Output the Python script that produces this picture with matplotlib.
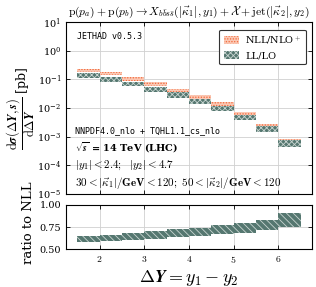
import matplotlib
matplotlib.use("Agg")
import matplotlib.pyplot as plt
import numpy as np

plt.rcParams['mathtext.fontset'] = 'cm'
plt.rcParams['font.family'] = ['DejaVu Serif']
plt.rcParams['hatch.linewidth'] = 0.6

# Data
bin_edges = [1.5, 2.0, 2.5, 3.0, 3.5, 4.0, 4.5, 5.0, 5.5, 6.0, 6.5]
nll_hi = [0.237, 0.181, 0.118, 0.0794, 0.0478, 0.0295, 0.0160, 0.00718, 0.00282, 0.00085]
nll_lo = [0.181, 0.139, 0.0906, 0.0607, 0.0376, 0.0209, 0.0110, 0.00520, 0.00216, 0.00069]
ll_hi = [0.167, 0.122, 0.0836, 0.0546, 0.0356, 0.0209, 0.0116, 0.00580, 0.00234, 0.00074]
ll_lo = [0.112, 0.0815, 0.0575, 0.0376, 0.0232, 0.0140, 0.0076, 0.00380, 0.00149, 0.000448]
ratio_hi = [0.650, 0.658, 0.684, 0.707, 0.726, 0.744, 0.771, 0.793, 0.831, 0.906]
ratio_lo = [0.579, 0.590, 0.605, 0.613, 0.632, 0.643, 0.673, 0.680, 0.711, 0.748]

edges = np.array(bin_edges)
centers = 0.5 * (edges[:-1] + edges[1:])
widths = np.diff(edges)

fig = plt.figure(figsize=(3.16, 2.87), dpi=100)
ax = fig.add_axes([0.209, 0.324, 0.778, 0.599])
axr = fig.add_axes([0.209, 0.132, 0.778, 0.154])

orange_face = '#fbc8b4'
orange_hatch = '#f26a3c'
gray_face = '#557770'
gray_hatch = '#c9d5d1'

nh = np.array(nll_hi); nl = np.array(nll_lo)
lh = np.array(ll_hi); lo = np.array(ll_lo)
ax.bar(centers, nh - nl, bottom=nl, width=widths, facecolor=orange_face,
       edgecolor=orange_hatch, hatch='......', linewidth=0, label=r'NLL/NLO$^+$', zorder=3)
ax.bar(centers, lh - lo, bottom=lo, width=widths, facecolor=gray_face,
       edgecolor=gray_hatch, hatch='xxxxxx', linewidth=0, label='LL/LO', zorder=4)

rh = np.array(ratio_hi); rl = np.array(ratio_lo)
axr.bar(centers, rh - rl, bottom=rl, width=widths, facecolor=gray_face,
        edgecolor=gray_hatch, hatch='\\\\\\\\\\', linewidth=0, zorder=3)

for a in (ax, axr):
    a.set_xlim(1.25, 6.75)
    a.grid(True, color='#d0d0d0', linewidth=0.6, linestyle='-', zorder=0)
    a.tick_params(direction='in', top=True, right=True, labelsize=7, length=3, width=0.6)
    for s in a.spines.values():
        s.set_linewidth(0.8)

ax.set_yscale('log')
ax.set_ylim(1e-5, 1e1)
ax.set_xticks([2, 3, 4, 5, 6])
ax.set_xticklabels([])
ax.minorticks_off()
ax.set_yticks([1e-5, 1e-4, 1e-3, 1e-2, 1e-1, 1e0, 1e1])

axr.set_ylim(0.5, 1.0)
axr.set_yticks([0.5, 0.75, 1.0])
axr.set_yticklabels(['0.50', '0.75', '1.00'])
axr.set_xticks([2, 3, 4, 5, 6])
axr.set_xticklabels([r'$\mathbf{2}$', r'$\mathbf{3}$', r'$\mathbf{4}$', r'$\mathbf{5}$', r'$\mathbf{6}$'])

ax.set_ylabel(r'$\dfrac{\mathrm{d}\boldsymbol{\sigma}(\boldsymbol{\Delta Y, s})}{\mathrm{d}\boldsymbol{\Delta Y}}$ [pb]', fontsize=9)
ax.yaxis.set_label_coords(-0.12, 0.5)
axr.set_ylabel('ratio to NLL', fontsize=9.5)
axr.yaxis.set_label_coords(-0.125, 0.6)
axr.set_xlabel(r'$\mathbf{\Delta} \boldsymbol{Y = y_1 - y_2}$', fontsize=13, labelpad=2)

ax.set_title(r'$\mathrm{p}(p_a) + \mathrm{p}(p_b) \to X_{b\bar{b}s\bar{s}}(|\vec{\kappa}_1|, y_1) + \mathcal{X} + \mathrm{jet}(|\vec{\kappa}_2|, y_2)$',
             fontsize=8.4, pad=5)

mono = ['DejaVu Sans Mono']
ax.text(0.045, 0.915, 'JETHAD v0.5.3', transform=ax.transAxes, fontsize=6, family=mono, va='center')
ax.text(0.037, 0.37, 'NNPDF4.0_nlo + TQHL1.1_cs_nlo', transform=ax.transAxes, fontsize=6, family=mono, va='center')
ax.text(0.037, 0.268, r'$\sqrt{\boldsymbol{s}}$ = 14 TeV (LHC)', transform=ax.transAxes, fontsize=7, fontweight='bold', va='center')
ax.text(0.037, 0.169, r'$\boldsymbol{|y_1| < 2.4;\ \ |y_2| < 4.7}$', transform=ax.transAxes, fontsize=8, va='center')
ax.text(0.037, 0.064, r'$\boldsymbol{30 < |\vec{\kappa}_1|/}\mathbf{GeV}\boldsymbol{ < 120;\ 50 < |\vec{\kappa}_2|/}\mathbf{GeV}\boldsymbol{ < 120}$',
        transform=ax.transAxes, fontsize=8, va='center')

leg = ax.legend(loc='upper right', fontsize=7, frameon=True, fancybox=True, framealpha=1,
                edgecolor='#333333', handlelength=1.6, handleheight=0.9, borderpad=0.45,
                labelspacing=0.5, handletextpad=0.6, bbox_to_anchor=(0.995, 0.985))
leg.get_frame().set_linewidth(0.8)

fig.savefig('out.png', dpi=100)
